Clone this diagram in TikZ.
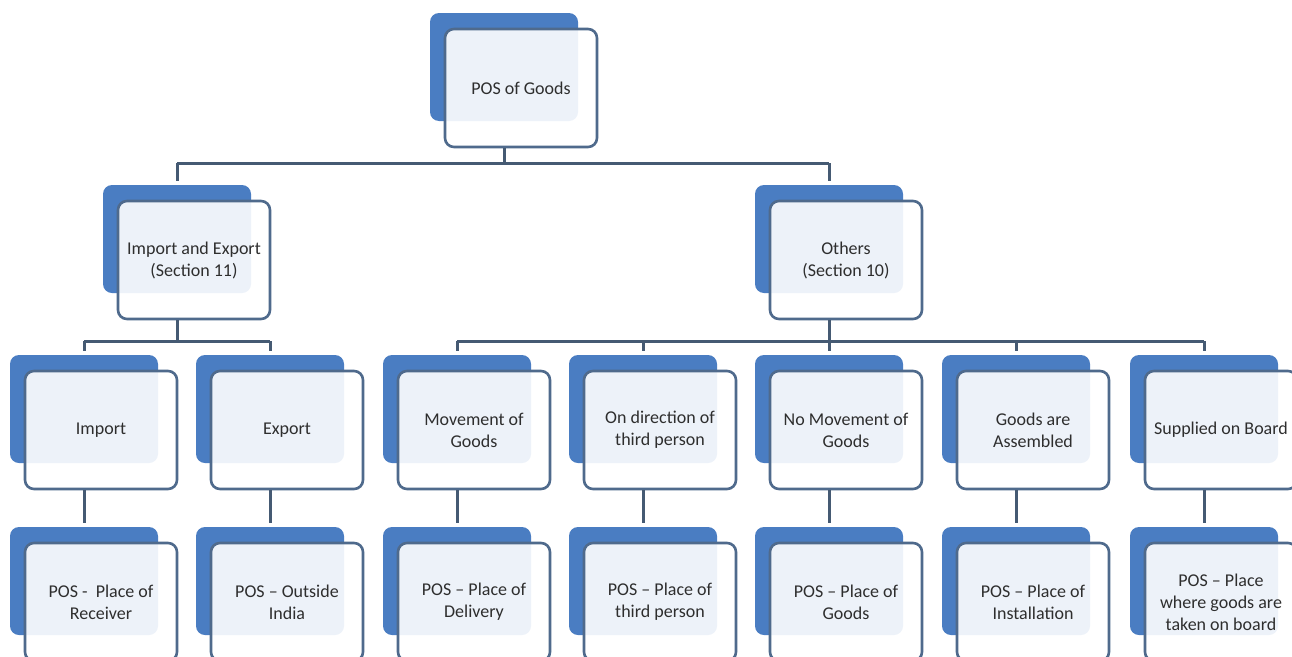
\documentclass[tikz,border=0pt]{standalone}
\usepackage{fontspec}
\setmainfont{Carlito}
\definecolor{boxblue}{HTML}{4A7DC2}
\definecolor{rimblue}{HTML}{4F6A8C}
\definecolor{linkgrey}{HTML}{455A73}
\definecolor{labelgrey}{HTML}{2E2E2E}
% a card = solid blue sheet behind a translucent white sheet with the label
\newcommand\orgcard[4]{%
  \node[backbox] (#1b) at (#2, #3+54) {};
  \node[frontbox] (#1) at (#2+17, #3+75) {#4};
}
\begin{document}
\begin{tikzpicture}[x=1pt,y=-1pt,
  backbox/.style={fill=boxblue, rounded corners=9pt, minimum width=148pt,
    minimum height=108pt, inner sep=0pt},
  frontbox/.style={draw=rimblue, line width=2.6pt, fill=white, fill opacity=0.9,
    text opacity=1, rounded corners=9pt, minimum width=152pt, minimum height=118pt,
    align=center, text=labelgrey, font=\fontsize{18}{22}\selectfont, inner sep=0pt},
  wire/.style={draw=linkgrey, line width=3pt},
  stem/.style={wire, shorten >=4pt}
]
\useasboundingbox (0,0) rectangle (1292,656);
\fill[white] (0,0) rectangle (1292,656);
\clip (0,0) rectangle (1292,656);

% level 0 and 1
\orgcard{top}{504}{13}{POS of Goods}
\orgcard{ie}{177}{185}{Import and Export\\(Section 11)}
\orgcard{oth}{829}{185}{Others\\(Section 10)}

% level 2
\orgcard{imp}{84}{355}{Import}
\orgcard{exp}{270}{355}{Export}
\orgcard{mov}{457}{355}{Movement of\\Goods}
\orgcard{dir}{643}{355}{On direction of\\third person}
\orgcard{nomov}{829}{355}{No Movement of\\Goods}
\orgcard{asm}{1016}{355}{Goods are\\Assembled}
\orgcard{brd}{1204}{355}{Supplied on Board}

% level 3
\orgcard{impp}{84}{527}{POS -\ \ Place of\\Receiver}
\orgcard{expp}{270}{527}{POS – Outside\\India}
\orgcard{movp}{457}{527}{POS – Place of\\Delivery}
\orgcard{dirp}{643}{527}{POS – Place of\\third person}
\orgcard{nomovp}{829}{527}{POS – Place of\\Goods}
\orgcard{asmp}{1016}{527}{POS – Place of\\Installation}
\orgcard{brdp}{1204}{527}{POS – Place\\where goods are\\taken on board}

% bus heights
\coordinate (busA) at (0,163);
\coordinate (busB) at (0,341);

% top to section level
\draw[wire] (top.south -| topb.center) -- (topb.center |- busA);
\draw[wire] (ieb.center |- busA) -- (othb.center |- busA);
\draw[stem] (ieb.center |- busA) -- (ieb.north);
\draw[stem] (othb.center |- busA) -- (othb.north);

% import / export branch
\draw[wire] (ie.south -| ieb.center) -- (ieb.center |- busB);
\draw[wire] (impb.center |- busB) -- (expb.center |- busB);
\foreach \n in {imp,exp}
  \draw[stem] (\n b.center |- busB) -- (\n b.north);

% others branch
\draw[wire] (oth.south -| othb.center) -- (othb.center |- busB);
\draw[wire] (movb.center |- busB) -- (brdb.center |- busB);
\foreach \n in {mov,dir,nomov,asm,brd}
  \draw[stem] (\n b.center |- busB) -- (\n b.north);

% each case to its place of supply
\foreach \n in {imp,exp,mov,dir,nomov,asm,brd}
  \draw[stem] (\n.south -| \n b.center) -- (\n pb.north);
\end{tikzpicture}
\end{document}
